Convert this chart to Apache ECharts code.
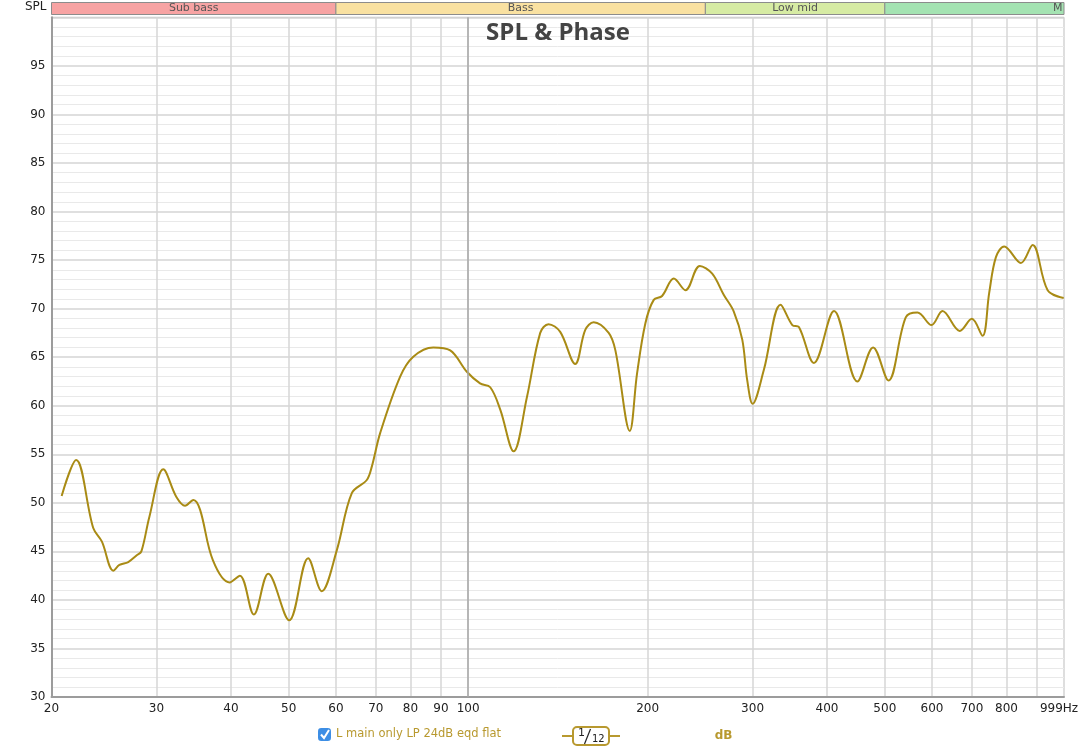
<!DOCTYPE html>
<html><head><meta charset="utf-8">
<script src="https://cdn.jsdelivr.net/npm/echarts@6/dist/echarts.min.js"></script>
<style>html,body{margin:0;padding:0;background:#fff}#c{width:1089px;height:752px}</style>
</head><body><div id="c"></div>
<script>
const seriesName = 'L main only LP 24dB eqd flat';
const freqHz = [20.8,22.0,23.5,24.3,25.4,26.0,26.9,27.8,28.3,29.2,30.8,32.4,33.5,34.6,35.5,37.3,39.8,41.4,43.7,46.2,50.1,53.9,56.8,60.2,63.8,67.6,68.9,71.2,76.9,80.9,87.4,93.3,99.5,104.7,108.9,113.2,119.2,125.5,132.1,136.4,142.7,151.2,157.2,162.4,172.1,176.6,186.7,192.0,198.3,204.8,211.5,221.3,231.5,244.7,256.7,268.5,279.0,288.3,293.9,300.0,313.4,334.3,349.8,358.8,380.2,410.9,449.7,477.9,507.0,542.1,567.2,598.8,624.8,667.9,699.8,729.3,748.2,768.0,793.0,845.8,884.9,937.8,997.7];
const splDb = [50.7,54.4,47.4,46.0,43.0,43.6,43.9,44.6,45.0,48.6,53.45,50.6,49.7,50.3,49.3,44.1,41.8,42.5,38.5,42.7,37.9,44.3,40.9,45.1,51.0,52.35,53.7,57.2,63.0,65.05,66.0,65.7,63.5,62.3,61.9,59.6,55.3,60.9,67.5,68.4,67.6,64.3,67.8,68.6,67.5,65.7,57.4,63.3,68.5,70.9,71.3,73.1,71.9,74.4,73.6,71.4,69.7,66.8,62.6,60.2,63.7,70.4,68.3,68.1,64.4,69.75,62.5,66.0,62.6,69.1,69.6,68.3,69.75,67.7,68.95,67.2,71.6,75.3,76.4,74.7,76.55,71.9,71.1];
const xGridHz = [20,30,40,50,60,70,80,90,100,200,300,400,500,600,700,800,900];
const xLabelHz = [20,30,40,50,60,70,80,90,100,200,300,400,500,600,700,800,999];
const xMinHz = 20, xMaxHz = 999;
const yMin = 30, yMax = 100, yStep = 5;
const bandNames = ['Sub bass','Bass','Low mid','M'];
const bandStartHz = [20,60,250,500];
const bandEndHz = [60,250,500,999];
const bandColors = ['#f7a3a3','#f9e1a1','#d6eba3','#a4e3b2'];

const lineColor = '#a98b15';
const textGold = '#b8992f';
const L = Math.log10;
const chart = echarts.init(document.getElementById('c'));
chart.setOption({
  animation:false,
  textStyle:{fontFamily:'DejaVu Sans'},
  title:{text:'SPL & Phase', left:558, top:21, textAlign:'center', padding:0,
    textStyle:{fontFamily:'Open Sans', fontSize:24, fontWeight:'bold', color:'#444'}},
  legend:{left:318, top:728, padding:0, itemWidth:13, itemHeight:13, itemGap:5,
    data:[{name:seriesName, icon:'roundRect', itemStyle:{color:'#3d8ee5', borderWidth:0}}],
    textStyle:{color:textGold, fontSize:11.5, fontFamily:'DejaVu Sans'}, selectedMode:false},
  grid:[
    {left:51.5, right:25, top:17.3, bottom:55, show:true, borderColor:'#bdbdbd', borderWidth:1},
    {left:51.5, right:25, top:2.5, height:12}
  ],
  xAxis:[
    {type:'value', gridIndex:0, min:L(xMinHz), max:L(xMaxHz),
     axisLine:{show:true, lineStyle:{color:'#9c9c9c', width:2}},
     axisTick:{show:false, customValues:xGridHz.map(L)},
     axisLabel:{customValues:xLabelHz.map(L), margin:6, color:'#222', fontSize:12,
       formatter:v=>{const f=Math.round(Math.pow(10,v)); return f===xMaxHz?'{e|'+f+'Hz}':String(f);},
       rich:{e:{fontSize:12, color:'#222', padding:[0,10,0,0]}}},
     splitLine:{show:true, lineStyle:{color:'#d6d6d6', width:1.5}}},
    {type:'value', gridIndex:1, min:L(xMinHz), max:L(xMaxHz), show:false}
  ],
  yAxis:[
    {type:'value', gridIndex:0, min:yMin, max:yMax, interval:yStep,
     name:'SPL', nameLocation:'end', nameGap:4,
     nameTextStyle:{color:'#222', fontSize:12, align:'right', padding:[0,5,0,0]},
     axisLine:{show:true, lineStyle:{color:'#9c9c9c', width:2}},
     axisTick:{show:false},
     axisLabel:{showMaxLabel:false, margin:6, color:'#222', fontSize:12},
     splitLine:{show:true, lineStyle:{color:'#d4d4d4', width:1.5}},
     minorTick:{show:false, splitNumber:5},
     minorSplitLine:{show:true, lineStyle:{color:'#e9e9e9', width:1}}},
    {type:'value', gridIndex:1, min:0, max:1, show:false}
  ],
  graphic:[
    {type:'polyline', shape:{points:[[321,734.5],[324,738],[329,730]]}, style:{stroke:'#fff', lineWidth:2, fill:null}, z:100},
    {type:'line', shape:{x1:562, y1:736, x2:620, y2:736}, style:{stroke:textGold, lineWidth:2}},
    {type:'rect', shape:{x:573, y:727, width:36, height:18, r:4}, style:{fill:'#fff', stroke:textGold, lineWidth:2}},
    {type:'text', x:578, y:728, style:{text:'1', fontSize:11, fill:'#222', fontFamily:'DejaVu Sans'}},
    {type:'line', shape:{x1:584.5, y1:744, x2:590.5, y2:729}, style:{stroke:'#222', lineWidth:1.2}},
    {type:'text', x:592, y:734, style:{text:'12', fontSize:10, fill:'#222', fontFamily:'DejaVu Sans'}},
    {type:'text', x:723.5, y:736, style:{text:'dB', fontSize:12, fontWeight:'bold', fill:textGold, fontFamily:'DejaVu Sans', align:'center', verticalAlign:'middle'}}
  ],
  series:[
    {name:seriesName, type:'line', xAxisIndex:0, yAxisIndex:0, smooth:0.35, showSymbol:false,
     lineStyle:{color:lineColor, width:2}, itemStyle:{color:lineColor},
     data:freqHz.map((f,i)=>[L(f), splDb[i]]),
     markLine:{silent:true, symbol:'none', label:{show:false}, animation:false,
       lineStyle:{color:'#a9a9a9', type:'solid', width:1.5},
       data:[{xAxis:L(100)}]}},
    {type:'custom', xAxisIndex:1, yAxisIndex:1, silent:true,
     data:bandNames.map((n,i)=>[L(bandStartHz[i]), L(bandEndHz[i]), i]),
     renderItem:(params, api)=>{
       const i = api.value(2);
       const p0 = api.coord([api.value(0), 0]);
       const p1 = api.coord([api.value(1), 1]);
       return {type:'rect', shape:{x:p0[0], y:p1[1], width:p1[0]-p0[0], height:p0[1]-p1[1]},
         style:{fill:bandColors[i], stroke:'#8c8c8c', lineWidth:1},
         textContent:{style:{text:bandNames[i], fill:'#555', fontSize:11, fontFamily:'DejaVu Sans'}},
         textConfig:{position: i===3?'insideRight':'inside', distance:2}};
     }}
  ]
});
</script></body></html>
